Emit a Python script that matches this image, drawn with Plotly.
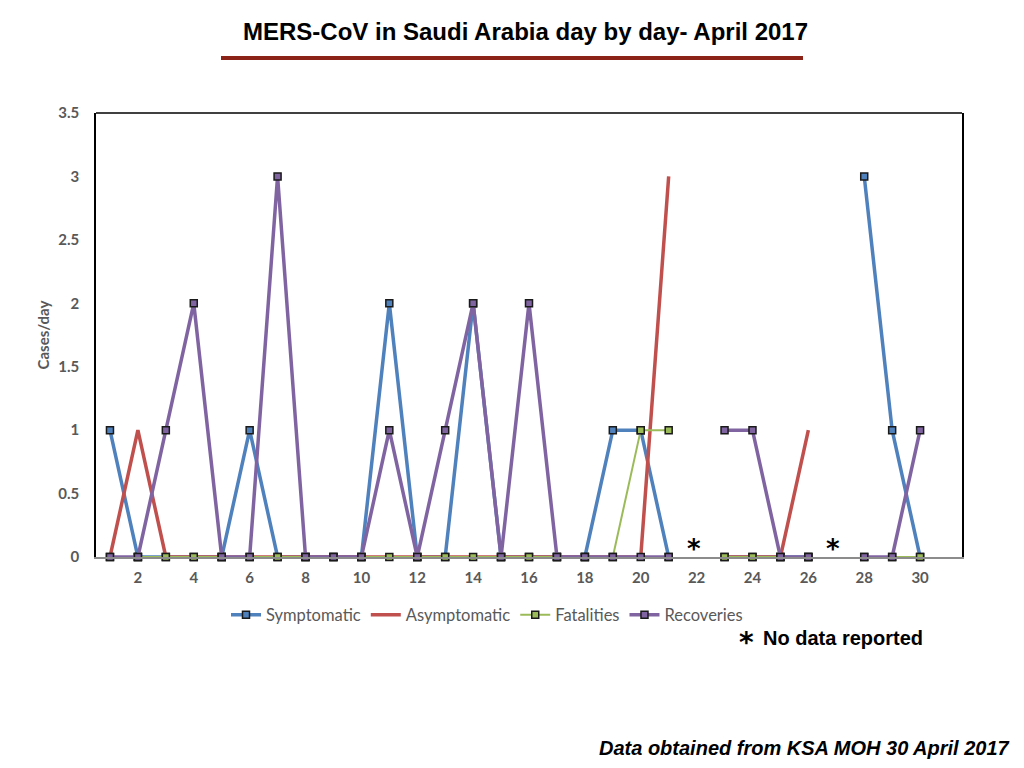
import plotly.graph_objects as go

days = list(range(1, 32))
symptomatic = [1, 0, 0, 0, 0, 1, 0, 0, 0, 0, 2, 0, 0, 2, 0, 0, 0, 0, 1, 1, 0, None, 0, 0, 0, 0, None, 3, 1, 0, None]
asymptomatic = [0, 1, 0, 0, 0, 0, 0, 0, 0, 0, 0, 0, 0, 0, 0, 0, 0, 0, 0, 0, 3, None, 0, 0, 0, 1, None, None, None, None, None]
fatalities = [0, 0, 0, 0, 0, 0, 0, 0, 0, 0, 0, 0, 0, 0, 0, 0, 0, 0, 0, 1, 1, None, 0, 0, 0, 0, None, 0, 0, 0, None]
recoveries = [0, 0, 1, 2, 0, 0, 3, 0, 0, 0, 1, 0, 1, 2, 0, 2, 0, 0, 0, 0, 0, None, 1, 1, 0, 0, None, 0, 0, 1, None]
no_data_days = [22, 27]
x_ticks = list(range(2, 31, 2))
y_ticks = [0, 0.5, 1, 1.5, 2, 2.5, 3, 3.5]

BLUE = "#4F81BD"
RED = "#C0504D"
GREEN = "#9BBB59"
PURPLE = "#8064A2"
GRAY = "#595959"

OFF = 8  # page body margin
L, R, T, B = 96 - OFF, 962 - OFF, 113 - OFF, 557 - OFF
W, H = 1024, 768


def px(xp):
    return (xp - OFF - L) / (R - L)


def py(yp):
    return (B - (yp - OFF)) / (B - T)


fig = go.Figure()


def add(name, vals, color, width, markers=True):
    fig.add_trace(go.Scatter(
        x=days, y=vals, name=name,
        mode="lines+markers" if markers else "lines",
        line=dict(color=color, width=width),
        marker=dict(symbol="square", size=7, color=color,
                    line=dict(color="#1a1a1a", width=1.5)),
        cliponaxis=False,
        connectgaps=False,
    ))


add("Symptomatic", symptomatic, BLUE, 3.5)
add("Asymptomatic", asymptomatic, RED, 3.5, markers=False)
add("Fatalities", fatalities, GREEN, 2)
add("Recoveries", recoveries, PURPLE, 3.5)

annotations = []
for d in no_data_days:
    annotations.append(dict(x=d, y=0, xref="x", yref="y", text="<b>*</b>", showarrow=False,
                            yanchor="bottom", yshift=-9, xshift=-3,
                            font=dict(family="DejaVu Sans", size=26, color="black")))
annotations += [
    dict(x=px(525), y=py(32), xref="paper", yref="paper",
         text="<b>MERS-CoV in Saudi Arabia day by day- April 2017</b>",
         showarrow=False, xanchor="center", yanchor="middle",
         font=dict(family="Liberation Sans", size=24, color="black")),
    dict(x=px(756), y=py(642), xref="paper", yref="paper", text="<b>*</b>",
         showarrow=False, xanchor="right", yanchor="middle",
         font=dict(family="DejaVu Sans", size=28, color="black")),
    dict(x=px(925), y=py(638), xref="paper", yref="paper", text="<b>No data reported</b>",
         showarrow=False, xanchor="right", yanchor="middle",
         font=dict(family="Liberation Sans", size=20, color="black")),
    dict(x=px(1012), y=py(748), xref="paper", yref="paper",
         text="<b><i>Data obtained from KSA MOH 30 April 2017</i></b>",
         showarrow=False, xanchor="right", yanchor="middle",
         font=dict(family="Liberation Sans", size=20, color="black")),
]

fig.update_layout(
    width=W, height=H,
    margin=dict(l=L, r=W - R, t=T, b=H - B, autoexpand=False),
    paper_bgcolor="white", plot_bgcolor="white",
    font=dict(family="Lato", color=GRAY, size=12),
    showlegend=True,
    legend=dict(orientation="h", x=px(226), y=py(615),
                xanchor="left", yanchor="middle",
                font=dict(family="Lato", size=16.5, color=GRAY),
                itemwidth=30, tracegroupgap=0),
    annotations=annotations,
    shapes=[
        dict(type="line", xref="paper", yref="paper", x0=px(221), x1=px(803),
             y0=py(58), y1=py(58), line=dict(color="#8B2318", width=4)),
        dict(type="line", xref="paper", yref="paper", x0=0, x1=1, y0=1, y1=1,
             line=dict(color="black", width=1.5)),
    ],
)

fig.update_xaxes(range=[0.5, 31.5], tickvals=x_ticks, ticktext=[f"<b>{t}</b>" for t in x_ticks],
                 showgrid=False, zeroline=False, showline=True, linecolor="#8C8C8C", linewidth=1.5,
                 ticks="", ticklabelstandoff=6, tickfont=dict(family="Lato", size=15, color=GRAY))
fig.update_yaxes(range=[0, 3.5], tickvals=y_ticks, ticktext=[f"<b>{t:g}</b>" for t in y_ticks],
                 showgrid=False, zeroline=False, showline=True, linecolor="black", linewidth=1.5,
                 mirror=True, ticks="", ticklabelstandoff=12,
                 tickfont=dict(family="Lato", size=15, color=GRAY),
                 title=dict(text="<b>Cases/day</b>", font=dict(family="Lato", size=15, color=GRAY),
                            standoff=5))

fig.write_html("out.html")
